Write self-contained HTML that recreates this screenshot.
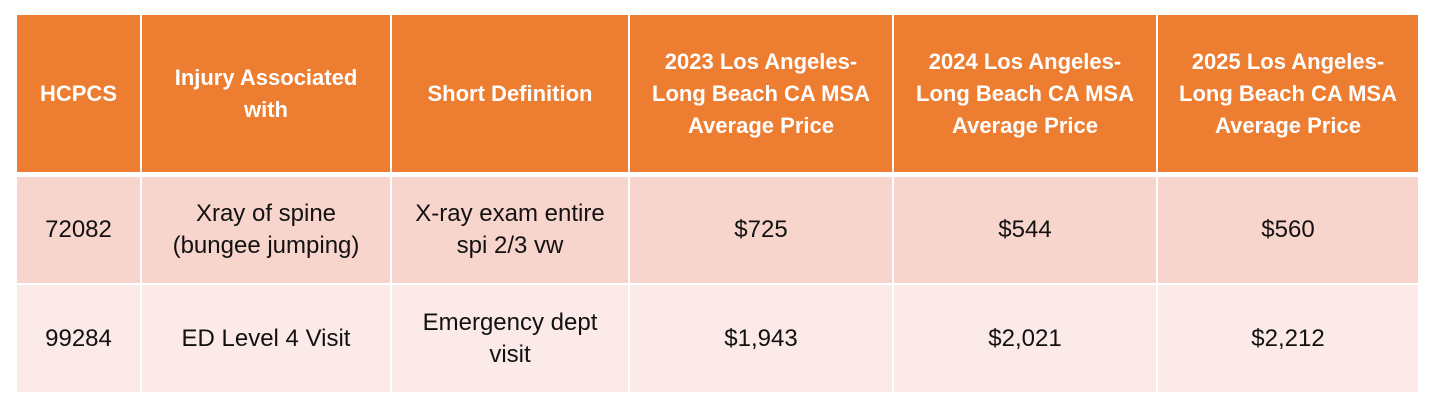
<!DOCTYPE html>
<html><head><meta charset="utf-8"><style>
body{margin:0;width:1430px;height:415px;background:#fff;position:relative;overflow:hidden;font-family:"Liberation Sans",sans-serif}
.c{position:absolute;display:flex;align-items:center;justify-content:center;text-align:center;box-sizing:border-box;font-size:24px;line-height:32px;color:#111}
.h{background:#ED7D31;color:#fff;font-weight:bold;font-size:22px}
.r1{background:#F8D5CC}
.r2{background:#FCEAE8}
</style></head><body>
<div id="t"></div>
<script>
const xs=[17,142,392,630,894,1158,1418];
const ys=[[15,172,'h'],[177,283,'r1'],[285,392,'r2']];
const rows=[
["HCPCS","Injury Associated<br>with","Short Definition","2023 Los Angeles-<br>Long Beach CA MSA<br>Average Price","2024 Los Angeles-<br>Long Beach CA MSA<br>Average Price","2025 Los Angeles-<br>Long Beach CA MSA<br>Average Price"],
["72082","Xray of spine<br>(bungee jumping)","X-ray exam entire<br>spi 2/3 vw","$725","$544","$560"],
["99284","ED Level 4 Visit","Emergency dept<br>visit","$1,943","$2,021","$2,212"]];
const names=["hcpcs","injury","definition","price-2023","price-2024","price-2025"];
const t=document.getElementById('t');
rows.forEach((r,ri)=>{r.forEach((txt,ci)=>{
const d=document.createElement('div');
d.className='c '+ys[ri][2];
d.style.left=xs[ci]+'px';d.style.top=ys[ri][0]+'px';
d.style.width=(xs[ci+1]-xs[ci]-(ci<5?2:0))+'px';d.style.height=(ys[ri][1]-ys[ri][0])+'px';
d.innerHTML=txt;


t.appendChild(d);});});
</script>
</body></html>
